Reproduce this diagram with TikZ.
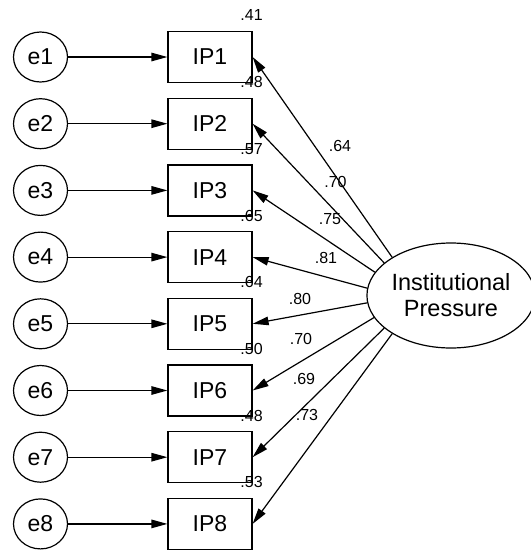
\documentclass[tikz,border=0pt]{standalone}
\usepackage{fontspec}
\setmainfont{Liberation Sans}
\usetikzlibrary{shapes.geometric,arrows.meta}
\begin{document}
\begin{tikzpicture}[x=1pt,y=-1pt,
  errvar/.style={ellipse, draw, line width=1.2pt, minimum width=54pt, minimum height=50pt,
    inner sep=0pt, font=\fontsize{23}{23}\selectfont},
  item/.style={rectangle, draw, line width=1.2pt, minimum width=84pt, minimum height=51pt,
    inner sep=0pt, font=\fontsize{23}{23}\selectfont},
  latent/.style={ellipse, draw, line width=1.2pt, minimum width=156pt, minimum height=105pt,
    inner sep=0pt, align=center, font=\fontsize{23.5}{26}\selectfont},
  regpath/.style={line width=1.2pt, -{Triangle[length=16pt,width=8.5pt]}},
  smalllbl/.style={inner sep=0pt, font=\fontsize{16}{16}\selectfont}
]
\useasboundingbox (0,0) rectangle (531,550);

% latent factor
\node[latent] (ip) at (451,295.5) {Institutional\\Pressure};

% indicators, error terms, squared multiple correlations and loadings
\foreach \i/\a/\r/\l/\lx/\ly in {
    1/147/.41/.64/340/146,
    2/154/.48/.70/335.5/182,
    3/163/.57/.75/330/219,
    4/175/.65/.81/326/258,
    5/185/.64/.80/300/298.5,
    6/196/.50/.70/301/339,
    7/206/.48/.69/304/379,
    8/213/.53/.73/307/415} {
  \node[errvar] (e\i) at (40.5,{57+(\i-1)*66.7}) {e\i};
  \node[item] (ip\i) at (210,{57+(\i-1)*66.7}) {IP\i};
  \draw[regpath] (e\i) -- (ip\i);
  \node[smalllbl] (r\i) at ([xshift=-1pt,yshift=15.5pt]ip\i.north east) {\r};
  \draw[regpath] (ip.\a) -- (ip\i.east);
  \node[smalllbl] (w\i) at (\lx,\ly) {\l};
}
\end{tikzpicture}
\end{document}
